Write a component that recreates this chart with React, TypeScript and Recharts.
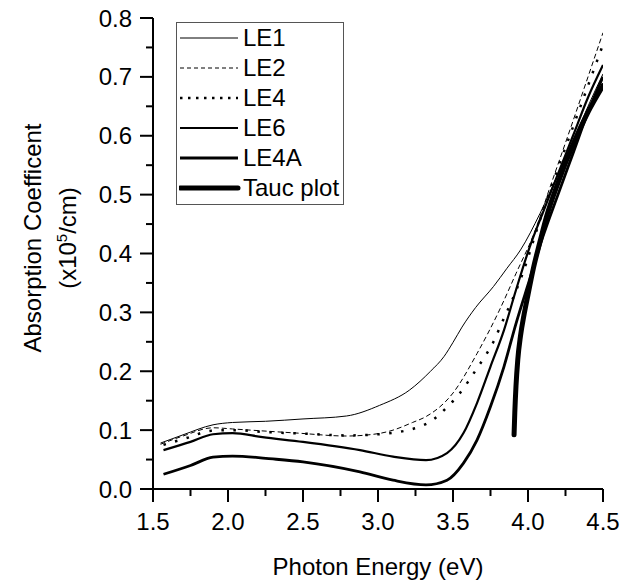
import { LineChart, Line, XAxis, YAxis } from 'recharts';

const FONT = '"Liberation Sans", Arial, sans-serif';

// axis ticks (major ones get a label)
const xMajorTicks = [1.5, 2.0, 2.5, 3.0, 3.5, 4.0, 4.5];
const xMinorTicks = [1.75, 2.25, 2.75, 3.25, 3.75, 4.25];
const yMajorTicks = [0, 0.1, 0.2, 0.3, 0.4, 0.5, 0.6, 0.7, 0.8];
const yMinorTicks = [0.05, 0.15, 0.25, 0.35, 0.45, 0.55, 0.65, 0.75];

// LE1
const le1Energy = [1.55, 1.7, 1.9, 2.03, 2.25, 2.5, 2.79, 3.01, 3.21, 3.35, 3.44, 3.5, 3.56, 3.65, 3.77, 3.86, 3.95, 4.08, 4.2, 4.3, 4.4, 4.5];
const le1Abs = [0.078, 0.092, 0.109, 0.113, 0.115, 0.119, 0.124, 0.142, 0.168, 0.2, 0.225, 0.249, 0.275, 0.308, 0.344, 0.375, 0.406, 0.468, 0.535, 0.59, 0.65, 0.705];

// LE2
const le2Energy = [1.55, 1.7, 1.9, 2.03, 2.15, 2.46, 2.79, 3.0, 3.1, 3.23, 3.32, 3.5, 3.66, 3.81, 3.92, 4.04, 4.15, 4.3, 4.4, 4.5];
const le2Abs = [0.076, 0.09, 0.104, 0.102, 0.1, 0.095, 0.09, 0.094, 0.1, 0.113, 0.123, 0.163, 0.23, 0.304, 0.366, 0.434, 0.515, 0.625, 0.7, 0.775];

// LE4
const le4Energy = [1.57, 1.73, 1.89, 2.05, 2.23, 2.5, 2.8, 2.94, 3.2, 3.38, 3.46, 3.54, 3.6, 3.66, 3.72, 3.77, 3.81, 3.85, 3.89, 3.96, 4.09, 4.2, 4.3, 4.4, 4.5];
const le4Abs = [0.075, 0.087, 0.099, 0.1, 0.097, 0.094, 0.091, 0.092, 0.1, 0.12, 0.139, 0.161, 0.182, 0.205, 0.228, 0.25, 0.273, 0.296, 0.318, 0.363, 0.465, 0.545, 0.615, 0.685, 0.755];

// LE6
const le6Energy = [1.57, 1.75, 1.9, 2.03, 2.23, 2.5, 2.88, 3.1, 3.32, 3.46, 3.57, 3.66, 3.75, 3.84, 3.92, 4.01, 4.1, 4.2, 4.3, 4.4, 4.5];
const le6Abs = [0.066, 0.08, 0.093, 0.095, 0.088, 0.08, 0.066, 0.055, 0.049, 0.061, 0.095, 0.146, 0.208, 0.27, 0.338, 0.41, 0.47, 0.535, 0.6, 0.665, 0.72];

// LE4A
const le4aEnergy = [1.57, 1.75, 1.9, 2.03, 2.3, 2.5, 2.88, 3.1, 3.32, 3.46, 3.57, 3.66, 3.75, 3.84, 3.92, 4.01, 4.1, 4.2, 4.3, 4.4, 4.5];
const le4aAbs = [0.025, 0.04, 0.054, 0.056, 0.051, 0.046, 0.029, 0.015, 0.007, 0.015, 0.044, 0.083, 0.14, 0.208, 0.281, 0.355, 0.429, 0.5, 0.57, 0.64, 0.7];

// Tauc plot
const taucEnergy = [3.907, 3.912, 3.92, 3.932, 3.95, 3.975, 4.0, 4.036, 4.08, 4.124, 4.2, 4.3, 4.4, 4.5];
const taucAbs = [0.092, 0.13, 0.175, 0.22, 0.26, 0.298, 0.33, 0.375, 0.42, 0.463, 0.52, 0.585, 0.64, 0.685];

const toPoints = (xs: number[], ys: number[]) => xs.map((x, i) => ({ energy: x, abs: ys[i] }));

interface Series {
  name: string;
  data: { energy: number; abs: number }[];
  width: number;
  dash?: string;
  legendDash?: string;
}

const series: Series[] = [
  { name: 'LE1', data: toPoints(le1Energy, le1Abs), width: 1 },
  { name: 'LE2', data: toPoints(le2Energy, le2Abs), width: 1, dash: '5 3', legendDash: '4 3' },
  { name: 'LE4', data: toPoints(le4Energy, le4Abs), width: 2.5, dash: '2.5 9.5', legendDash: '2.5 5.5' },
  { name: 'LE6', data: toPoints(le6Energy, le6Abs), width: 2.2 },
  { name: 'LE4A', data: toPoints(le4aEnergy, le4aAbs), width: 2.8 },
  { name: 'Tauc plot', data: toPoints(taucEnergy, taucAbs), width: 5 },
];

const xTicks = [...xMajorTicks, ...xMinorTicks].sort((a, b) => a - b);
const yTicks = [...yMajorTicks, ...yMinorTicks].sort((a, b) => a - b);

function XTick({ x, y, payload }: any) {
  const major = xMajorTicks.includes(payload.value);
  return (
    <g>
      <line x1={x} x2={x} y1={y} y2={y + (major ? 13 : 7)} stroke="#000" strokeWidth={2} />
      {major && (
        <text x={x} y={y + 24} dy="0.71em" textAnchor="middle" fontSize={24} fontFamily={FONT} fill="#000">
          {payload.value.toFixed(1)}
        </text>
      )}
    </g>
  );
}

function YTick({ x, y, payload }: any) {
  const major = yMajorTicks.includes(payload.value);
  return (
    <g>
      <line x1={x} x2={x - (major ? 13 : 7)} y1={y} y2={y} stroke="#000" strokeWidth={2} />
      {major && (
        <text x={x - 21} y={y} dy="0.355em" textAnchor="end" fontSize={24} fontFamily={FONT} fill="#000">
          {payload.value.toFixed(1)}
        </text>
      )}
    </g>
  );
}

const yTitle = () => (
  <g fontFamily={FONT} fontSize={24} fill="#000">
    <text x={32} y={238} transform="rotate(-90 32 238)" textAnchor="middle" dy="0.355em">
      Absorption Coefficent
    </text>
    <text x={67} y={238} transform="rotate(-90 67 238)" textAnchor="middle" dy="0.355em">
      (x10<tspan fontSize={15} dy={-9}>5</tspan>
      <tspan dy={9}>/cm)</tspan>
    </text>
  </g>
);

const xTitle = () => (
  <text x={378} y={575} textAnchor="middle" fontFamily={FONT} fontSize={24} fill="#000">
    Photon Energy (eV)
  </text>
);

function LegendBox() {
  return (
    <div
      style={{
        position: 'absolute',
        left: 176,
        top: 22,
        width: 168,
        height: 183,
        border: '1px solid #555',
        boxSizing: 'border-box',
        background: '#fff',
        fontFamily: FONT,
        fontSize: 24,
        color: '#000',
      }}
    >
      {series.map((s) => (
        <div key={s.name} style={{ display: 'flex', alignItems: 'center', height: 30, lineHeight: '30px' }}>
          <svg width={62} height={12} style={{ marginLeft: 2, marginRight: 2 }}>
            <line
              x1={1}
              x2={59}
              y1={6}
              y2={6}
              stroke="#000"
              strokeWidth={s.width}
              strokeDasharray={s.legendDash}
              strokeLinecap={s.width >= 5 ? 'round' : 'butt'}
            />
          </svg>
          <span>{s.name}</span>
        </div>
      ))}
    </div>
  );
}

export default function App() {
  return (
    <div style={{ position: 'absolute', left: 0, top: 0, width: 634, height: 583, background: '#fff' }}>
      <LineChart width={634} height={583} margin={{ top: 18, right: 31, bottom: 34, left: 0 }}>
        <XAxis
          dataKey="energy"
          type="number"
          domain={[1.5, 4.5]}
          ticks={xTicks}
          interval={0}
          tickSize={0}
          tickMargin={0}
          tickLine={false}
          tick={<XTick />}
          axisLine={{ stroke: '#000', strokeWidth: 2 }}
          height={60}
          allowDataOverflow
          label={xTitle}
        />
        <YAxis
          type="number"
          domain={[0, 0.8]}
          ticks={yTicks}
          interval={0}
          tickSize={0}
          tickMargin={0}
          tickLine={false}
          tick={<YTick />}
          axisLine={{ stroke: '#000', strokeWidth: 2 }}
          width={153}
          allowDataOverflow
          label={yTitle}
        />
        {series.map((s) => (
          <Line
            key={s.name}
            name={s.name}
            data={s.data}
            dataKey="abs"
            type="monotone"
            stroke="#000"
            strokeWidth={s.width}
            strokeDasharray={s.dash}
            strokeLinecap={s.width >= 5 ? 'round' : 'butt'}
            dot={false}
            activeDot={false}
            isAnimationActive={false}
          />
        ))}
      </LineChart>
      <LegendBox />
    </div>
  );
}
